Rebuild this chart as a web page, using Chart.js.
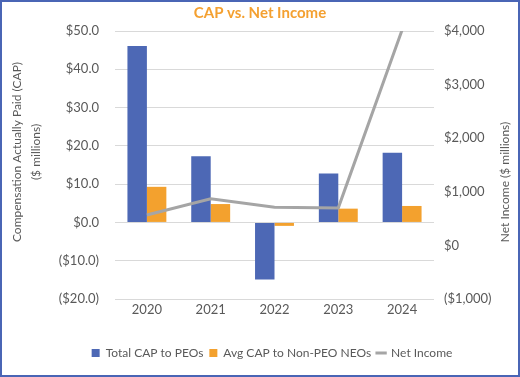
<!DOCTYPE html>
<html><head><meta charset="utf-8">
<script src="https://cdn.jsdelivr.net/npm/chart.js@4"></script>
<style>
html,body{margin:0;padding:0;background:#fff;}
#wrap{position:relative;width:520px;height:377px;}
#wrap:after{content:"";position:absolute;left:0;top:0;right:0;bottom:0;border:2px solid #4A65B5;box-sizing:border-box;pointer-events:none;}
canvas{display:block;}
</style></head>
<body>
<div id="wrap"><canvas id="c" width="520" height="377"></canvas></div>
<script>
const years = ["2020","2021","2022","2023","2024"];
const peoCap = [46.1, 17.3, -14.9, 12.8, 18.2];
const neoCap = [9.3, 4.8, -0.9, 3.6, 4.3];
const netIncome = [568, 871, 714, 700, 4020];
const leftTicks = [-20, -10, 0, 10, 20, 30, 40, 50];
const rightTicks = [-1000, 0, 1000, 2000, 3000, 4000];
const leftTitle = ["Compensation Actually Paid (CAP)", "($ millions)"];
const rightTitle = "Net Income ($ millions)";

const FONT = "Lato, 'Open Sans', sans-serif";
const GREY = "#595959";
Chart.defaults.font.family = FONT;
Chart.defaults.color = GREY;

function fmtL(v){ const s = "$" + Math.abs(v).toFixed(1); return v < 0 ? "(" + s + ")" : s; }
function fmtR(v){ const s = "$" + Math.abs(v).toLocaleString("en-US"); return v < 0 ? "(" + s + ")" : s; }

const axisTitles = {
  id:"axisTitles",
  afterLayout(chart){
    if (chart.legend){ chart.legend.left += 12; chart.legend.right += 12; }
  },
  afterDraw(chart){
    const ctx = chart.ctx;
    ctx.save();
    ctx.fillStyle = GREY;
    ctx.font = "12px " + FONT;
    ctx.textAlign = "center";
    ctx.textBaseline = "middle";
    ctx.save();
    ctx.translate(17, 152);
    ctx.rotate(-Math.PI/2);
    ctx.fillText(leftTitle[0], 0, 0);
    ctx.fillText(leftTitle[1], 0, 19);
    ctx.restore();
    ctx.save();
    ctx.translate(505, 182);
    ctx.rotate(-Math.PI/2);
    ctx.fillText(rightTitle, 0, 0);
    ctx.restore();
    ctx.restore();
  }
};

new Chart(document.getElementById("c"), {
  data: {
    labels: years,
    datasets: [
      {type:"line", label:"Net Income", data:netIncome, yAxisID:"yR", borderColor:"#A5A5A5", backgroundColor:"#A5A5A5", borderWidth:3, pointRadius:0, tension:0, order:0, pointStyle:"line"},
      {type:"bar", label:"Total CAP to PEOs", data:peoCap, yAxisID:"yL", backgroundColor:"#4D68B5", categoryPercentage:0.61, barPercentage:1, order:1, pointStyle:"rect"},
      {type:"bar", label:"Avg CAP to Non-PEO NEOs", data:neoCap, yAxisID:"yL", backgroundColor:"#F3A12E", categoryPercentage:0.61, barPercentage:1, order:2, pointStyle:"rect"}
    ]
  },
  options: {
    responsive:false, animation:false,
    layout:{padding:{top:0,bottom:8,left:0,right:0}},
    plugins:{
      title:{display:true, text:"CAP vs. Net Income", color:"#F4A030", font:{size:15, weight:"bold", family:FONT}, padding:{top:4,bottom:9}},
      legend:{position:"bottom", labels:{
        usePointStyle:true, boxWidth:8, boxHeight:8, font:{size:12}, color:GREY, padding:6,
        sort:(a,b)=>{const o={"Total CAP to PEOs":0,"Avg CAP to Non-PEO NEOs":1,"Net Income":2};return o[a.text]-o[b.text];},
        generateLabels:(chart)=>{
          const items = Chart.defaults.plugins.legend.labels.generateLabels(chart);
          items.forEach(it=>{ if(it.text==="Net Income"){ it.pointStyle="line"; it.lineWidth=3; it.strokeStyle="#A5A5A5"; } else { it.lineWidth=0; }});
          return items;
        }
      }},
      tooltip:{enabled:false}
    },
    scales:{
      x:{grid:{display:false, drawTicks:false}, border:{display:false}, ticks:{font:{size:13}, color:GREY, padding:3},
        afterFit:(s)=>{s.height=42;}},
      yL:{position:"left", min:-20, max:50, afterBuildTicks:(s)=>{s.ticks=leftTicks.map(v=>({value:v}));},
        ticks:{callback:fmtL, font:{size:13}, color:GREY, padding:16},
        grid:{color:"#D9D9D9", drawTicks:false, lineWidth:1}, border:{display:false},
        title:{display:false},
        afterFit:(s)=>{s.width=115;}},
      yR:{position:"right", min:-1000, max:4000, afterBuildTicks:(s)=>{s.ticks=rightTicks.map(v=>({value:v}));},
        ticks:{callback:fmtR, font:{size:13}, color:GREY, padding:10},
        grid:{display:false, drawTicks:false}, border:{display:false},
        title:{display:false},
        afterFit:(s)=>{s.width=86;}}
    }
  },
  plugins:[axisTitles]
});
</script>
</body></html>
